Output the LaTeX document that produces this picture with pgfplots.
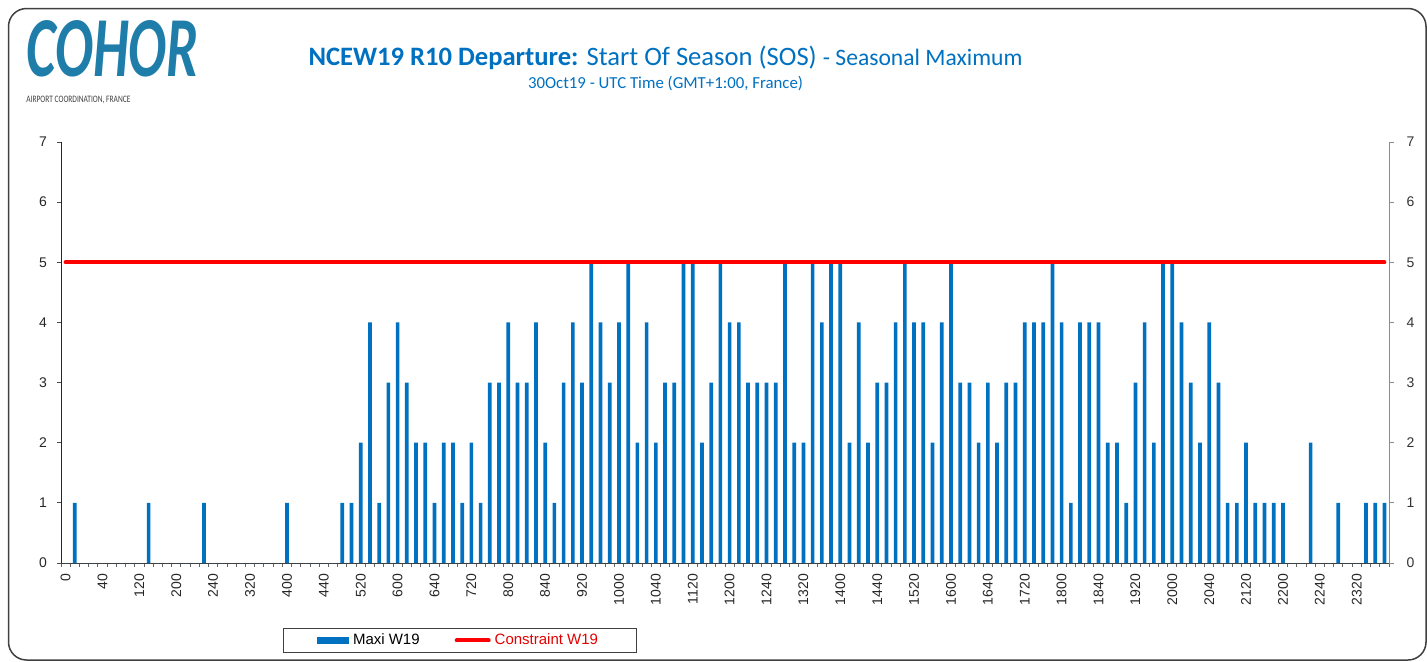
\documentclass[border=0pt]{standalone}
\usepackage{fontspec}
\setmainfont{Liberation Sans}
\newfontfamily\calibri{Carlito}
\usepackage{pgfplots}
\usepackage{pgfplotstable}
\pgfplotsset{compat=1.18}
\definecolor{barblue}{RGB}{0,112,192}
\definecolor{titleblue}{RGB}{0,112,192}
\definecolor{logoblue}{RGB}{31,125,170}
\definecolor{framegray}{RGB}{64,64,64}

\pgfplotstableread{
slot val
0 0
1 1
2 0
3 0
4 0
5 0
6 0
7 0
8 0
9 1
10 0
11 0
12 0
13 0
14 0
15 1
16 0
17 0
18 0
19 0
20 0
21 0
22 0
23 0
24 1
25 0
26 0
27 0
28 0
29 0
30 1
31 1
32 2
33 4
34 1
35 3
36 4
37 3
38 2
39 2
40 1
41 2
42 2
43 1
44 2
45 1
46 3
47 3
48 4
49 3
50 3
51 4
52 2
53 1
54 3
55 4
56 3
57 5
58 4
59 3
60 4
61 5
62 2
63 4
64 2
65 3
66 3
67 5
68 5
69 2
70 3
71 5
72 4
73 4
74 3
75 3
76 3
77 3
78 5
79 2
80 2
81 5
82 4
83 5
84 5
85 2
86 4
87 2
88 3
89 3
90 4
91 5
92 4
93 4
94 2
95 4
96 5
97 3
98 3
99 2
100 3
101 2
102 3
103 3
104 4
105 4
106 4
107 5
108 4
109 1
110 4
111 4
112 4
113 2
114 2
115 1
116 3
117 4
118 2
119 5
120 5
121 4
122 3
123 2
124 4
125 3
126 1
127 1
128 2
129 1
130 1
131 1
132 1
133 0
134 0
135 2
136 0
137 0
138 1
139 0
140 0
141 1
142 1
143 1
}\maxi

\begin{document}
\begin{tikzpicture}[x=0.5pt,y=0.5pt]
\useasboundingbox (0,0) rectangle (1427,661);
% frame
\draw[framegray, line width=0.75pt, rounded corners=9pt] (8.5,1) rectangle (1426,652.5);
% logo
\node[anchor=north west, inner sep=0, text=logoblue] at (26,641) {\resizebox{86pt}{28pt}{\calibri\bfseries\itshape COHOR}};
\node[anchor=north west, inner sep=0, text=black!75] at (26,565) {\resizebox{52pt}{3.2pt}{\calibri AIRPORT COORDINATION, FRANCE}};
% titles
\node[anchor=base, inner sep=0, text=titleblue] at (665.5,596) {\calibri\fontsize{13.3}{15}\selectfont\bfseries NCEW19 R10 Departure:\mdseries{} Start Of Season (SOS) {\fontsize{11.8}{14}\selectfont - Seasonal Maximum}};
\node[anchor=base, inner sep=0, text=titleblue] at (665.5,573) {\calibri\fontsize{8.4}{10}\selectfont 30Oct19 - UTC Time (GMT+1:00, France)};

\begin{axis}[
  at={(30.5pt,49pt)}, anchor=south west,
  scale only axis, width=664pt, height=210.5pt,
  xmin=-0.5, xmax=143.5, ymin=0, ymax=7,
  axis x line=bottom, axis y line=left,
  x axis line style={-, black!75, line width=0.5pt},
  y axis line style={-, black!85, line width=0.5pt},
  tick align=outside, major tick length=2pt, minor tick length=2pt,
  xtick={0,4,...,140},
  xticklabels={0,40,120,200,240,320,400,440,520,600,640,720,800,840,920,1000,1040,1120,1200,1240,1320,1400,1440,1520,1600,1640,1720,1800,1840,1920,2000,2040,2120,2200,2240,2320},
  major x tick style={draw=none},
  minor xtick={-0.5,0.5,...,143.5},
  minor x tick style={black!60, line width=0.5pt},
  xticklabel style={rotate=90, anchor=east, font=\fontsize{7}{8}\selectfont, text=black!85},
  ytick={0,1,...,7},
  major y tick style={black!70, line width=0.5pt},
  yticklabel style={font=\fontsize{7}{8}\selectfont, text=black!85, xshift=-1.5pt},
  /pgf/number format/assume math mode=true,
  legend columns=2,
  legend style={at={(0.3001,-0.184)}, anchor=center, draw=black!75, line width=0.5pt,
    font=\fontsize{7.5}{9}\selectfont, inner xsep=17pt, inner ysep=0.6pt,
    /tikz/every even column/.append style={column sep=15.5pt}},
  legend cell align=left,
]
\addplot[ybar, bar width=0.4, fill=barblue, draw=none,
  legend image code/.code={\fill[barblue] (0pt,-1.75pt) rectangle (16pt,1.75pt);}]
  table[x=slot, y=val] {\maxi};
\addlegendentry{Maxi W19}
\addplot[red, line width=2pt, line cap=round,
  legend image code/.code={\draw[red, line width=2pt, line cap=round] (1pt,0pt) -- (17pt,0pt);}]
  coordinates {(0,5) (143,5)};
\addlegendentry{\textcolor{red!90!black}{Constraint W19}}
\end{axis}

\begin{axis}[
  at={(30.5pt,49pt)}, anchor=south west,
  scale only axis, width=664pt, height=210.5pt,
  xmin=-0.5, xmax=143.5, ymin=0, ymax=7,
  axis x line=none, axis y line=right,
  y axis line style={-, black!45, line width=0.5pt},
  tick align=outside, major tick length=2.3pt,
  xtick=\empty,
  ytick={0,1,...,7},
  major y tick style={black!45, line width=0.5pt},
  yticklabel style={font=\fontsize{7}{8}\selectfont, text=black!80, xshift=3pt},
  /pgf/number format/assume math mode=true,
]
\end{axis}
\end{tikzpicture}
\end{document}
